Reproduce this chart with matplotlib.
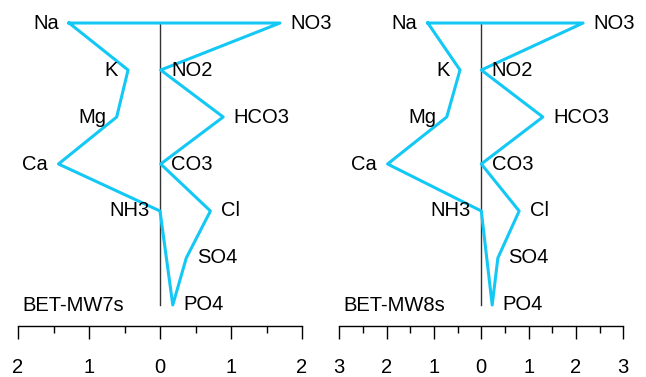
import matplotlib
matplotlib.use("Agg")
import matplotlib.pyplot as plt
from matplotlib.ticker import MultipleLocator, FuncFormatter

plt.rcParams['font.family'] = ['Liberation Sans', 'DejaVu Sans']

# Stiff diagram data
cations = ["Na", "K", "Mg", "Ca", "NH3"]
anions = ["NO3", "NO2", "HCO3", "CO3", "Cl", "SO4", "PO4"]

mw7_cat = [1.28, 0.45, 0.61, 1.43, 0.0]
mw7_an = [1.69, 0.01, 0.89, 0.01, 0.71, 0.37, 0.18]

mw8_cat = [1.13, 0.45, 0.73, 1.98, 0.0]
mw8_an = [2.15, 0.0, 1.30, 0.0, 0.80, 0.35, 0.23]

samples = ["BET-MW7s", "BET-MW8s"]
xmax = [2, 3]

line_col = "#14C8F5"
fs = 14.5

fig = plt.figure(figsize=(6.46, 3.77), dpi=100)
W, H = 646, 377
lefts = [18, 339.3]
width = 284
top_px, spine_px = 13, 326

for k, (cat, an) in enumerate([(mw7_cat, mw7_an), (mw8_cat, mw8_an)]):
    ax = fig.add_axes([lefts[k] / W, (H - spine_px) / H, width / W, (spine_px - top_px) / H])
    ncat = len(cat)
    nan = len(an)
    # polygon: cations top->bottom on the left, anions bottom->top on the right
    xs = [-v for v in cat] + [v for v in an[::-1]] + [-cat[0]]
    ys = list(range(ncat)) + list(range(nan))[::-1] + [0]
    ax.plot(xs, ys, color=line_col, lw=2.2, clip_on=False, zorder=3)
    ax.plot([0, 0], [0, nan - 1], color="#333333", lw=1.0, zorder=2)

    for i, name in enumerate(cations):
        ax.annotate(name, (-cat[i], i), xytext=(-7.5, 0), textcoords="offset points",
                    ha="right", va="center", fontsize=fs)
    for i, name in enumerate(anions):
        ax.annotate(name, (an[i], i), xytext=(7.5, 0), textcoords="offset points",
                    ha="left", va="center", fontsize=fs)
    ax.annotate(samples[k], (-xmax[k], nan - 1 + 0.02), xytext=(3, 0), textcoords="offset points",
                ha="left", va="center", fontsize=fs)

    ax.set_xlim(-xmax[k], xmax[k])
    ax.set_ylim(6.447, -0.213)
    for s in ["top", "left", "right"]:
        ax.spines[s].set_visible(False)
    ax.spines["bottom"].set_linewidth(1.0)
    ax.set_yticks([])
    ax.xaxis.set_major_locator(MultipleLocator(1))
    ax.xaxis.set_minor_locator(MultipleLocator(0.5))
    ax.xaxis.set_major_formatter(FuncFormatter(lambda v, p: "%d" % abs(round(v))))
    ax.tick_params(axis="x", which="major", length=9, width=1.0, labelsize=fs, pad=14)
    ax.tick_params(axis="x", which="minor", length=5, width=1.0)

fig.savefig("out.png", dpi=100)
